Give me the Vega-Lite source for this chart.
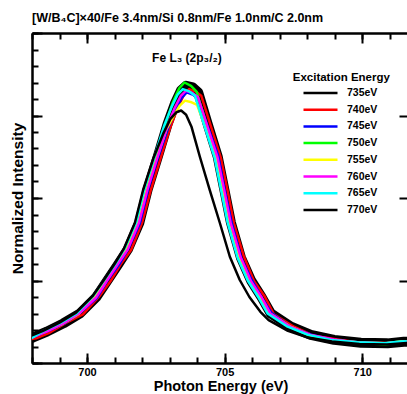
{
  "$schema": "https://vega.github.io/schema/vega-lite/v6.json",
  "width": 377,
  "height": 330,
  "autosize": "none",
  "padding": {"left": 32, "top": 33, "right": 0, "bottom": 31},
  "background": "white",
  "title": {"text": "[W/B₄C]×40/Fe 3.4nm/Si 0.8nm/Fe 1.0nm/C 2.0nm", "anchor": "start", "frame": "group", "font": "Liberation Sans", "fontWeight": "bold", "fontSize": 12.5, "color": "black", "offset": 8},
  "config": {
    "view": {"stroke": null},
    "axis": {"domainColor": "black", "domainWidth": 2, "tickColor": "black", "tickWidth": 2, "grid": false, "labelFont": "Liberation Sans", "labelFontWeight": "bold", "labelFontSize": 11, "labelColor": "black", "titleFont": "Liberation Sans", "titleFontWeight": "bold", "titleFontSize": 14.5, "titleColor": "black"}
  },
  "data": {"values": [
    {"s":"735eV","x":697.95,"y":1.5},{"s":"735eV","x":698.04,"y":1.55},{"s":"735eV","x":698.54,"y":1.9},{"s":"735eV","x":699.14,"y":2.4},{"s":"735eV","x":699.74,"y":3.0},{"s":"735eV","x":700.34,"y":4.0},{"s":"735eV","x":700.74,"y":5.0},{"s":"735eV","x":701.14,"y":6.0},{"s":"735eV","x":701.49,"y":6.9},{"s":"735eV","x":701.9,"y":8.5},{"s":"735eV","x":702.2,"y":10.5},{"s":"735eV","x":702.57,"y":12.5},{"s":"735eV","x":702.93,"y":14.5},{"s":"735eV","x":703.19,"y":15.7},{"s":"735eV","x":703.41,"y":16.5},{"s":"735eV","x":703.6,"y":16.8},{"s":"735eV","x":703.84,"y":16.7},{"s":"735eV","x":704.04,"y":16.4},{"s":"735eV","x":704.38,"y":14.5},{"s":"735eV","x":704.75,"y":12.5},{"s":"735eV","x":704.99,"y":10.5},{"s":"735eV","x":705.23,"y":8.5},{"s":"735eV","x":705.59,"y":6.4},{"s":"735eV","x":705.96,"y":5.0},{"s":"735eV","x":706.34,"y":4.0},{"s":"735eV","x":706.68,"y":3.0},{"s":"735eV","x":707.41,"y":2.2},{"s":"735eV","x":708.13,"y":1.7},{"s":"735eV","x":708.98,"y":1.4},{"s":"735eV","x":709.95,"y":1.23},{"s":"735eV","x":710.92,"y":1.19},{"s":"735eV","x":711.51,"y":1.29},{"s":"735eV","x":711.74,"y":1.3},
    {"s":"740eV","x":697.95,"y":1.45},{"s":"740eV","x":698.15,"y":1.5},{"s":"740eV","x":698.65,"y":1.85},{"s":"740eV","x":699.25,"y":2.45},{"s":"740eV","x":699.85,"y":2.95},{"s":"740eV","x":700.45,"y":4.05},{"s":"740eV","x":700.85,"y":4.95},{"s":"740eV","x":701.25,"y":6.05},{"s":"740eV","x":701.6,"y":6.85},{"s":"740eV","x":702.01,"y":8.55},{"s":"740eV","x":702.31,"y":10.45},{"s":"740eV","x":702.68,"y":12.45},{"s":"740eV","x":703.04,"y":14.35},{"s":"740eV","x":703.3,"y":15.5},{"s":"740eV","x":703.52,"y":16.25},{"s":"740eV","x":703.71,"y":16.6},{"s":"740eV","x":703.95,"y":16.45},{"s":"740eV","x":704.15,"y":16.2},{"s":"740eV","x":704.49,"y":14.4},{"s":"740eV","x":704.86,"y":12.45},{"s":"740eV","x":705.1,"y":10.5},{"s":"740eV","x":705.34,"y":8.45},{"s":"740eV","x":705.7,"y":6.45},{"s":"740eV","x":706.07,"y":4.95},{"s":"740eV","x":706.45,"y":4.05},{"s":"740eV","x":706.79,"y":2.95},{"s":"740eV","x":707.52,"y":2.2},{"s":"740eV","x":708.24,"y":1.65},{"s":"740eV","x":709.09,"y":1.42},{"s":"740eV","x":710.06,"y":1.2},{"s":"740eV","x":711.03,"y":1.22},{"s":"740eV","x":711.62,"y":1.27},{"s":"740eV","x":711.85,"y":1.3},
    {"s":"745eV","x":697.9,"y":1.5},{"s":"745eV","x":698.06,"y":1.58},{"s":"745eV","x":698.56,"y":1.92},{"s":"745eV","x":699.16,"y":2.38},{"s":"745eV","x":699.76,"y":3.05},{"s":"745eV","x":700.36,"y":3.95},{"s":"745eV","x":700.76,"y":5.05},{"s":"745eV","x":701.16,"y":5.95},{"s":"745eV","x":701.51,"y":6.95},{"s":"745eV","x":701.92,"y":8.45},{"s":"745eV","x":702.22,"y":10.5},{"s":"745eV","x":702.59,"y":12.5},{"s":"745eV","x":702.95,"y":14.25},{"s":"745eV","x":703.21,"y":15.3},{"s":"745eV","x":703.43,"y":16.05},{"s":"745eV","x":703.62,"y":16.4},{"s":"745eV","x":703.86,"y":16.25},{"s":"745eV","x":704.06,"y":15.95},{"s":"745eV","x":704.4,"y":14.3},{"s":"745eV","x":704.77,"y":12.55},{"s":"745eV","x":705.01,"y":10.45},{"s":"745eV","x":705.25,"y":8.55},{"s":"745eV","x":705.61,"y":6.35},{"s":"745eV","x":705.98,"y":5.05},{"s":"745eV","x":706.36,"y":3.95},{"s":"745eV","x":706.7,"y":3.05},{"s":"745eV","x":707.43,"y":2.15},{"s":"745eV","x":708.15,"y":1.72},{"s":"745eV","x":709.0,"y":1.38},{"s":"745eV","x":709.97,"y":1.25},{"s":"745eV","x":710.94,"y":1.17},{"s":"745eV","x":711.53,"y":1.3},{"s":"745eV","x":711.76,"y":1.28},
    {"s":"750eV","x":697.98,"y":1.6},{"s":"750eV","x":698.48,"y":1.88},{"s":"750eV","x":699.08,"y":2.42},{"s":"750eV","x":699.68,"y":3.02},{"s":"750eV","x":700.28,"y":4.02},{"s":"750eV","x":700.68,"y":4.98},{"s":"750eV","x":701.08,"y":6.02},{"s":"750eV","x":701.43,"y":6.92},{"s":"750eV","x":701.84,"y":8.5},{"s":"750eV","x":702.14,"y":10.55},{"s":"750eV","x":702.51,"y":12.55},{"s":"750eV","x":702.87,"y":14.6},{"s":"750eV","x":703.13,"y":15.85},{"s":"750eV","x":703.35,"y":16.65},{"s":"750eV","x":703.54,"y":17.0},{"s":"750eV","x":703.78,"y":16.8},{"s":"750eV","x":703.98,"y":16.45},{"s":"750eV","x":704.32,"y":14.55},{"s":"750eV","x":704.69,"y":12.45},{"s":"750eV","x":704.93,"y":10.5},{"s":"750eV","x":705.17,"y":8.5},{"s":"750eV","x":705.53,"y":6.4},{"s":"750eV","x":705.9,"y":4.98},{"s":"750eV","x":706.28,"y":4.02},{"s":"750eV","x":706.62,"y":3.0},{"s":"750eV","x":707.35,"y":2.2},{"s":"750eV","x":708.07,"y":1.68},{"s":"750eV","x":708.92,"y":1.4},{"s":"750eV","x":709.89,"y":1.22},{"s":"750eV","x":710.86,"y":1.12},{"s":"750eV","x":711.45,"y":1.3},{"s":"750eV","x":711.68,"y":1.3},
    {"s":"755eV","x":698.0,"y":1.55},{"s":"755eV","x":698.5,"y":1.93},{"s":"755eV","x":699.1,"y":2.36},{"s":"755eV","x":699.7,"y":2.98},{"s":"755eV","x":700.3,"y":4.0},{"s":"755eV","x":700.7,"y":5.02},{"s":"755eV","x":701.1,"y":5.98},{"s":"755eV","x":701.45,"y":6.9},{"s":"755eV","x":701.86,"y":8.48},{"s":"755eV","x":702.16,"y":10.45},{"s":"755eV","x":702.53,"y":12.4},{"s":"755eV","x":702.89,"y":14.17},{"s":"755eV","x":703.15,"y":14.99},{"s":"755eV","x":703.37,"y":15.6},{"s":"755eV","x":703.56,"y":15.9},{"s":"755eV","x":703.8,"y":15.8},{"s":"755eV","x":704.0,"y":15.64},{"s":"755eV","x":704.34,"y":14.12},{"s":"755eV","x":704.71,"y":12.4},{"s":"755eV","x":704.95,"y":10.48},{"s":"755eV","x":705.19,"y":8.52},{"s":"755eV","x":705.55,"y":6.38},{"s":"755eV","x":705.92,"y":5.02},{"s":"755eV","x":706.3,"y":3.98},{"s":"755eV","x":706.64,"y":3.02},{"s":"755eV","x":707.37,"y":2.22},{"s":"755eV","x":708.09,"y":1.7},{"s":"755eV","x":708.94,"y":1.4},{"s":"755eV","x":709.91,"y":1.24},{"s":"755eV","x":710.88,"y":1.2},{"s":"755eV","x":711.47,"y":1.32},{"s":"755eV","x":711.7,"y":1.3},
    {"s":"760eV","x":697.9,"y":1.52},{"s":"760eV","x":698.03,"y":1.57},{"s":"760eV","x":698.53,"y":1.9},{"s":"760eV","x":699.13,"y":2.4},{"s":"760eV","x":699.73,"y":3.03},{"s":"760eV","x":700.33,"y":3.97},{"s":"760eV","x":700.73,"y":5.0},{"s":"760eV","x":701.13,"y":6.03},{"s":"760eV","x":701.48,"y":6.88},{"s":"760eV","x":701.89,"y":8.52},{"s":"760eV","x":702.19,"y":10.48},{"s":"760eV","x":702.56,"y":12.47},{"s":"760eV","x":702.92,"y":14.38},{"s":"760eV","x":703.18,"y":15.44},{"s":"760eV","x":703.4,"y":16.17},{"s":"760eV","x":703.59,"y":16.5},{"s":"760eV","x":703.83,"y":16.37},{"s":"760eV","x":704.03,"y":16.12},{"s":"760eV","x":704.37,"y":14.36},{"s":"760eV","x":704.74,"y":12.47},{"s":"760eV","x":704.98,"y":10.52},{"s":"760eV","x":705.22,"y":8.48},{"s":"760eV","x":705.58,"y":6.42},{"s":"760eV","x":705.95,"y":4.98},{"s":"760eV","x":706.33,"y":4.02},{"s":"760eV","x":706.67,"y":2.98},{"s":"760eV","x":707.4,"y":2.18},{"s":"760eV","x":708.12,"y":1.7},{"s":"760eV","x":708.97,"y":1.42},{"s":"760eV","x":709.94,"y":1.22},{"s":"760eV","x":710.91,"y":1.2},{"s":"760eV","x":711.5,"y":1.28},{"s":"760eV","x":711.73,"y":1.3},
    {"s":"765eV","x":697.92,"y":1.45},{"s":"765eV","x":698.42,"y":1.95},{"s":"765eV","x":699.02,"y":2.42},{"s":"765eV","x":699.62,"y":3.0},{"s":"765eV","x":700.22,"y":4.05},{"s":"765eV","x":700.62,"y":5.02},{"s":"765eV","x":701.02,"y":5.98},{"s":"765eV","x":701.37,"y":6.95},{"s":"765eV","x":701.78,"y":8.5},{"s":"765eV","x":702.08,"y":10.52},{"s":"765eV","x":702.45,"y":12.48},{"s":"765eV","x":702.81,"y":14.41},{"s":"765eV","x":703.07,"y":15.51},{"s":"765eV","x":703.29,"y":16.26},{"s":"765eV","x":703.48,"y":16.6},{"s":"765eV","x":703.72,"y":16.46},{"s":"765eV","x":703.92,"y":16.2},{"s":"765eV","x":704.26,"y":14.4},{"s":"765eV","x":704.63,"y":12.48},{"s":"765eV","x":704.87,"y":10.5},{"s":"765eV","x":705.11,"y":8.5},{"s":"765eV","x":705.47,"y":6.38},{"s":"765eV","x":705.84,"y":5.0},{"s":"765eV","x":706.22,"y":4.0},{"s":"765eV","x":706.56,"y":3.0},{"s":"765eV","x":707.29,"y":2.2},{"s":"765eV","x":708.01,"y":1.72},{"s":"765eV","x":708.86,"y":1.4},{"s":"765eV","x":709.83,"y":1.26},{"s":"765eV","x":710.8,"y":1.2},{"s":"765eV","x":711.39,"y":1.3},{"s":"765eV","x":711.62,"y":1.32},
    {"s":"770eV","x":697.9,"y":1.6},{"s":"770eV","x":698.4,"y":1.95},{"s":"770eV","x":699.0,"y":2.45},{"s":"770eV","x":699.6,"y":3.05},{"s":"770eV","x":700.2,"y":4.05},{"s":"770eV","x":700.6,"y":5.0},{"s":"770eV","x":701.0,"y":6.0},{"s":"770eV","x":701.33,"y":6.9},{"s":"770eV","x":701.74,"y":8.5},{"s":"770eV","x":702.04,"y":10.5},{"s":"770eV","x":702.41,"y":12.4},{"s":"770eV","x":702.77,"y":13.9},{"s":"770eV","x":703.03,"y":14.8},{"s":"770eV","x":703.25,"y":15.2},{"s":"770eV","x":703.42,"y":15.3},{"s":"770eV","x":703.6,"y":15.05},{"s":"770eV","x":703.8,"y":14.3},{"s":"770eV","x":704.1,"y":12.5},{"s":"770eV","x":704.46,"y":10.48},{"s":"770eV","x":704.83,"y":8.47},{"s":"770eV","x":705.19,"y":6.44},{"s":"770eV","x":705.55,"y":5.03},{"s":"770eV","x":705.9,"y":4.0},{"s":"770eV","x":706.3,"y":3.1},{"s":"770eV","x":706.6,"y":2.6},{"s":"770eV","x":707.3,"y":1.95},{"s":"770eV","x":708.0,"y":1.55},{"s":"770eV","x":708.9,"y":1.3},{"s":"770eV","x":709.9,"y":1.15},{"s":"770eV","x":710.9,"y":1.12},{"s":"770eV","x":711.5,"y":1.2},{"s":"770eV","x":711.7,"y":1.22}
  ]},
  "layer": [
    {
      "transform": [{"filter": "datum.s === '735eV'"}],
      "mark": {"type": "line", "strokeWidth": 10, "clip": true, "strokeJoin": "round"},
      "encoding": {
        "x": {"field": "x", "type": "quantitative", "scale": {"domain": [698, 711.7], "nice": false, "zero": false},
              "axis": {"orient": "bottom", "values": [698,699,700,701,702,703,704,705,706,707,708,709,710,711], "tickSize": -6, "labels": false, "title": null}},
        "y": {"field": "y", "type": "quantitative", "scale": {"domain": [0, 20], "nice": false, "zero": false},
              "axis": {"orient": "left", "values": [0,1,2,3,4,5,6,7,8,9,10,11,12,13,14,15,16,17,18,19,20], "tickSize": -6, "labels": false, "title": null}},
        "color": {"field": "s", "type": "nominal",
                  "scale": {"domain": ["735eV","740eV","745eV","750eV","755eV","760eV","765eV","770eV"], "range": ["#000000","#ff0000","#0000ff","#00ff00","#ffff00","#ff00ff","#00ffff","#000000"]},
                  "legend": {"orient": "none", "legendX": 270, "legendY": 53, "title": null, "symbolType": "stroke", "symbolSize": 1156, "symbolStrokeWidth": 2.5, "clipHeight": 14, "rowPadding": 2.7, "labelFont": "Liberation Sans", "labelFontWeight": "bold", "labelFontSize": 10.5, "labelColor": "black", "labelOffset": 8, "padding": 0}}
      }
    },
    {
      "transform": [{"filter": "datum.s !== '735eV'"}],
      "mark": {"type": "line", "strokeWidth": 2.5, "clip": true, "strokeJoin": "round"},
      "encoding": {
        "x": {"field": "x", "type": "quantitative", "scale": {"domain": [698, 711.7], "nice": false, "zero": false},
              "axis": {"orient": "bottom", "values": [700, 705, 710], "tickSize": -10, "labelPadding": 13, "title": "Photon Energy (eV)", "titlePadding": 2}},
        "y": {"field": "y", "type": "quantitative", "scale": {"domain": [0, 20], "nice": false, "zero": false},
              "axis": {"orient": "left", "values": [0, 5, 10, 15, 20], "tickSize": -10, "labels": false, "title": "Normalized Intensity", "titlePadding": 6, "titleFontSize": 15.5}},
        "color": {"field": "s", "type": "nominal",
                  "scale": {"domain": ["735eV","740eV","745eV","750eV","755eV","760eV","765eV","770eV"], "range": ["#000000","#ff0000","#0000ff","#00ff00","#ffff00","#ff00ff","#00ffff","#000000"]},
                  "legend": {"orient": "none", "legendX": 270, "legendY": 53, "title": null, "symbolType": "stroke", "symbolSize": 1156, "symbolStrokeWidth": 2.5, "clipHeight": 14, "rowPadding": 2.7, "labelFont": "Liberation Sans", "labelFontWeight": "bold", "labelFontSize": 10.5, "labelColor": "black", "labelOffset": 8, "padding": 0}}
      }
    },
    {
      "data": {"values": [{"t": "Excitation Energy", "x": 709.24, "y": 17.3}]},
      "mark": {"type": "text", "font": "Liberation Sans", "fontWeight": "bold", "fontSize": 11.5, "color": "black", "align": "center", "baseline": "middle"},
      "encoding": {
        "text": {"field": "t"},
        "x": {"field": "x", "type": "quantitative", "axis": {"orient": "top", "values": [698,699,700,701,702,703,704,705,706,707,708,709,710,711], "tickSize": -6, "labels": false, "title": null}},
        "y": {"field": "y", "type": "quantitative", "axis": {"orient": "right", "values": [5, 10, 15], "tickSize": -10, "labels": false, "title": null}}
      }
    },
    {
      "data": {"values": [{"t": "Fe L₃ (2p₃/₂)", "x": 703.63, "y": 18.48}]},
      "mark": {"type": "text", "font": "Liberation Sans", "fontWeight": "bold", "fontSize": 12, "color": "black", "align": "center", "baseline": "middle"},
      "encoding": {
        "text": {"field": "t"},
        "x": {"field": "x", "type": "quantitative", "axis": {"orient": "top", "values": [700, 705, 710], "tickSize": -10, "labels": false, "title": null}},
        "y": {"field": "y", "type": "quantitative", "axis": null}
      }
    }
  ],
  "resolve": {"axis": {"x": "independent", "y": "independent"}}
}
